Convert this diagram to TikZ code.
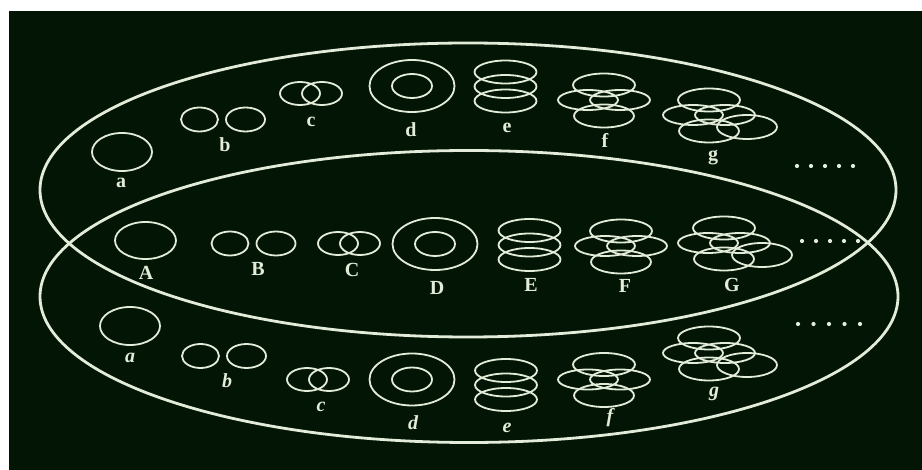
\documentclass[tikz,border=0pt]{standalone}
\usepackage{fontspec}
\setmainfont{Liberation Serif}
\definecolor{bgc}{RGB}{3,22,6}
\definecolor{lnc}{RGB}{226,236,216}
\tikzset{
  shapeline/.style={draw=lnc, line width=1.8pt},
  bigline/.style={draw=lnc, line width=2.8pt},
  lbl/.style={text=lnc, font=\fontsize{20}{20}\selectfont\bfseries, anchor=base, inner sep=0pt},
  lbli/.style={lbl, font=\fontsize{20}{20}\selectfont\bfseries\itshape},
  dotmark/.style={fill=lnc, draw=none}
}
\newcommand\fpattern[1]{%
 \begin{scope}[shift={#1}]
  \draw[shapeline] (0,-15) ellipse [x radius=31pt, y radius=11.5pt];
  \draw[shapeline] (0,16) ellipse [x radius=30pt, y radius=11.5pt];
  \draw[shapeline] (-16,0) ellipse [x radius=30pt, y radius=10pt];
  \draw[shapeline] (16,0) ellipse [x radius=30pt, y radius=10pt];
 \end{scope}}
\newcommand\gpattern[1]{%
 \fpattern{#1}
 \begin{scope}[shift={#1}]
  \draw[shapeline] (38,12) ellipse [x radius=30pt, y radius=12pt];
 \end{scope}}
\newcommand\epattern[1]{%
 \begin{scope}[shift={#1}]
  \draw[shapeline] (0,-14.5) ellipse [x radius=31pt, y radius=11.5pt];
  \draw[shapeline] (0,0) ellipse [x radius=31pt, y radius=11.5pt];
  \draw[shapeline] (0,14.5) ellipse [x radius=31pt, y radius=11.5pt];
 \end{scope}}
\newcommand\dpattern[1]{%
 \begin{scope}[shift={#1}]
  \draw[shapeline] (0,0) ellipse [x radius=42.5pt, y radius=26pt];
  \draw[shapeline] (0,0) ellipse [x radius=20pt, y radius=12pt];
 \end{scope}}
\newcommand\cpattern[1]{%
 \begin{scope}[shift={#1}]
  \draw[shapeline] (-11,0) ellipse [x radius=20pt, y radius=11.5pt];
  \draw[shapeline] (11,0) ellipse [x radius=20pt, y radius=11.5pt];
 \end{scope}}
\newcommand\bpattern[1]{%
 \begin{scope}[shift={#1}]
  \draw[shapeline] (-23,0) ellipse [x radius=18.5pt, y radius=12pt];
  \draw[shapeline] (23,0) ellipse [x radius=19.5pt, y radius=12pt];
 \end{scope}}
\begin{document}
\begin{tikzpicture}[x=1pt, y=-1pt]
\useasboundingbox (0,0) rectangle (922,470);
\fill[white] (0,0) rectangle (922,470);
\fill[bgc] (9,11) rectangle (922,470);
% big ellipses
\draw[bigline] (468,190) ellipse [x radius=428pt, y radius=147pt];
\draw[bigline] (469,296.5) ellipse [x radius=429pt, y radius=146pt];
% ---- top row
\draw[shapeline] (122,152) ellipse [x radius=30pt, y radius=19pt];
\bpattern{(222.5,119.5)}
\cpattern{(311,93.5)}
\dpattern{(412,86)}
\epattern{(505.5,86.5)}
\fpattern{(604,100)}
\gpattern{(709,115)}
\node[lbl] (ta) at (121,188) {a};
\node[lbl] (tb) at (225,152) {b};
\node[lbl] (tc) at (311,127) {c};
\node[lbl] (td) at (411,137) {d};
\node[lbl] (te) at (507,133) {e};
\node[lbl] (tf) at (605,148) {f};
\node[lbl] (tg) at (713,161) {g};
\foreach \i in {0,...,4} \fill[dotmark] (797+14*\i,166) circle (2.1pt);
% ---- middle row
\draw[shapeline] (145.5,240.5) ellipse [x radius=30.5pt, y radius=18.5pt];
\bpattern{(253,243.5)}
\cpattern{(349,243.5)}
\dpattern{(435,244)}
\epattern{(529.5,245)}
\fpattern{(621,246)}
\gpattern{(724,243)}
\node[lbl] (mA) at (146,280) {A};
\node[lbl] (mB) at (258,276) {B};
\node[lbl] (mC) at (352,277) {C};
\node[lbl] (mD) at (437,295) {D};
\node[lbl] (mE) at (531,292) {E};
\node[lbl] (mF) at (625,293) {F};
\node[lbl] (mG) at (732,292) {G};
\foreach \i in {0,...,4} \fill[dotmark] (802+14*\i,241) circle (2.1pt);
% ---- lower row
\draw[shapeline] (130,326) ellipse [x radius=30pt, y radius=19pt];
\bpattern{(223.5,356)}
\cpattern{(318,379.5)}
\dpattern{(412,379.5)}
\epattern{(506,385)}
\fpattern{(604,379.5)}
\gpattern{(709,353)}
\node[lbli] (la) at (130,363) {a};
\node[lbli] (lb) at (227,388) {b};
\node[lbli] (lc) at (321,412) {c};
\node[lbli] (ld) at (413,430) {d};
\node[lbli] (le) at (507,433) {e};
\node[lbli] (lf) at (610,423) {f};
\node[lbli] (lg) at (714,397) {g};
\foreach \i in {0,...,4} \fill[dotmark] (798+15.5*\i,324) circle (2.1pt);
\end{tikzpicture}
\end{document}
